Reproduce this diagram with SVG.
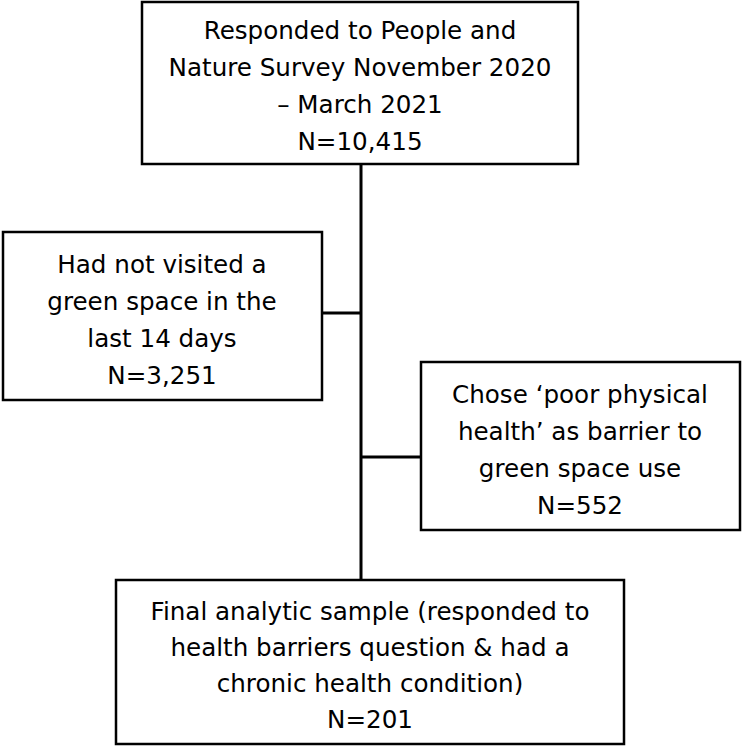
<svg xmlns="http://www.w3.org/2000/svg" width="743" height="747" viewBox="0 0 743 747">
<style>
.box{fill:#fff;stroke:#000;stroke-width:2.5}
.t{font-family:"DejaVu Sans","Liberation Sans",sans-serif;font-size:24.6px;fill:#000;text-anchor:middle}
.c{stroke:#000;stroke-width:3;fill:none}
</style>
<rect width="743" height="747" fill="#fff"/>
<g id="connectors">
<line class="c" x1="361" y1="164" x2="361" y2="580"/>
<line class="c" x1="322" y1="313" x2="361" y2="313"/>
<line class="c" x1="361" y1="457" x2="421" y2="457"/>
</g>
<g id="node-top">
<rect class="box" x="142" y="2" width="436" height="162"/>
<text class="t" x="360" y="39">Responded to People and</text>
<text class="t" x="360" y="76">Nature Survey November 2020</text>
<text class="t" x="360" y="113">– March 2021</text>
<text class="t" x="360" y="150">N=10,415</text>
</g>
<g id="node-left">
<rect class="box" x="3" y="232" width="319" height="168"/>
<text class="t" x="162" y="273">Had not visited a</text>
<text class="t" x="162" y="310">green space in the</text>
<text class="t" x="162" y="347">last 14 days</text>
<text class="t" x="162" y="384">N=3,251</text>
</g>
<g id="node-right">
<rect class="box" x="421" y="362" width="319" height="168"/>
<text class="t" x="580" y="403">Chose ‘poor physical</text>
<text class="t" x="580" y="440">health’ as barrier to</text>
<text class="t" x="580" y="477">green space use</text>
<text class="t" x="580" y="514">N=552</text>
</g>
<g id="node-bottom">
<rect class="box" x="116" y="580" width="508" height="164"/>
<text class="t" x="370" y="620">Final analytic sample (responded to</text>
<text class="t" x="370" y="656">health barriers question &amp; had a</text>
<text class="t" x="370" y="692">chronic health condition)</text>
<text class="t" x="370" y="728">N=201</text>
</g>
</svg>
